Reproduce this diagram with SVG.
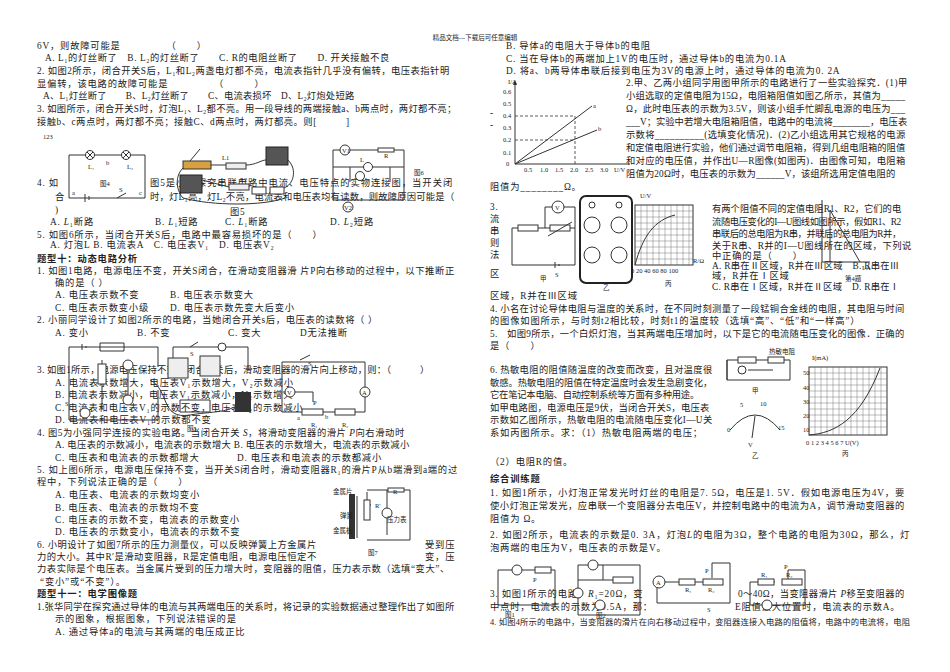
<svg xmlns="http://www.w3.org/2000/svg" width="950" height="672" viewBox="0 0 950 672">
<style>
text{font-family:"Liberation Serif","Noto Sans CJK SC",serif;font-size:9.3px;fill:#222;letter-spacing:0.8px}
.b{font-weight:bold}
.s{font-size:6.5px;letter-spacing:0}
.w{fill:none;stroke:#333;stroke-width:1}
.d{fill:none;stroke:#333;stroke-width:0.8;stroke-dasharray:3 2}
.g{fill:none;stroke:#555;stroke-width:0.4}
</style>
<rect width="950" height="672" fill="#fff"/>
<text x="475" y="40" class="s" text-anchor="middle">精品文档---下载后可任意编辑</text>

<g id="left-text">
<text x="37" y="49">6V，则故障可能是　　　　　（　　）</text>
<text x="45" y="61" textLength="345">A. L₁的灯丝断了　B. L₂的灯丝断了　　C. R的电阻丝断了　　D. 开关接触不良</text>
<text x="37" y="74" textLength="413">2. 如图2所示，闭合开关S后，L₁和L₂两盏电灯都不亮，电流表指针几乎没有偏转，电压表指针明</text>
<text x="37" y="87">显偏转，该电路的故障可能是　　　　　（　　　）</text>
<text x="43" y="99" textLength="312">A、L₁灯丝断了　　B、L₂灯丝断了　　C、电流表损坏　D、L₂灯炮处短路</text>
<text x="37" y="112" textLength="420">3. 如图所示，闭合开关S时，灯泡L₁、L₂都不亮。用一段导线的两端接触a、b两点时，两灯都不亮；</text>
<text x="37" y="125" textLength="313">接触b、c两点时，两灯都不亮；接触C、d两点时，两灯都亮。则[　　　]</text>
<text x="43" y="139" class="s">123</text>
<text x="37" y="186">4. 如</text>
<text x="55" y="200">合</text>
<text x="55" y="213">)</text>
<text x="150" y="186" textLength="303">图5是小明探究串联电路中电流、电压特点的实物连接图，当开关闭</text>
<text x="150" y="200" textLength="305">时，灯L₁亮，灯L₂不亮，电流表和电压表均有读数，则故障原因可能是（</text>
<text x="230" y="215">图5</text>
<text x="50" y="225">A. <tspan font-style="italic">L</tspan>₁断路</text>
<text x="155" y="225">B. <tspan font-style="italic">L</tspan>₁短路</text>
<text x="225" y="225">C. <tspan font-style="italic">L</tspan>₁断路</text>
<text x="330" y="225">D. <tspan font-style="italic">L</tspan>₂短路</text>
<text x="37" y="238">5. 如图6所示，当闭合开关S后，电路中最容易损坏的是（　　）</text>
<text x="50" y="248">A. 灯泡L B. 电流表A　C. 电压表V₁　D. 电压表V₂</text>
<text x="37" y="262" class="b">题型十：动态电路分析</text>
<text x="37" y="274" textLength="418">1. 如图1电路，电源电压不变，开关S闭合，在滑动变阻器滑 片P向右移动的过程中，以下推断正</text>
<text x="55" y="286">确的是（ ）</text>
<text x="55" y="298">A. 电压表示数不变</text><text x="170" y="298">B. 电压表示数变大</text>
<text x="55" y="311">C. 电压表示数变小级</text><text x="170" y="311">D. 电压表示数先变大后变小</text>
<text x="37" y="323" textLength="341">2. 小丽同学设计了如图2所示的电路，当她闭合开关s后，电压表的读数将（ ）</text>
<text x="55" y="336">A. 变小</text><text x="137" y="336">B. 不变</text><text x="228" y="336">C. 变大</text><text x="300" y="336">D无法推断</text>
<text x="37" y="373" textLength="393">3. 如图1所示，电源电压保持不变，闭合开关后，滑动变阻器的滑片向上移动，则：（　　　）</text>
<text x="55" y="386">A. 电流表示数增大，电压表V₁示数增大，V₂示数减小</text>
<text x="55" y="398">B. 电流表示数减小，电压表V₁示数减小，V₂示数增大</text>
<text x="55" y="411">C. 电流表和电压表V₁的示数不变，电压表V₂的示数减小</text>
<text x="55" y="423">D. 电流表和电压表V₁的示数都不变</text>
<text x="37" y="436" textLength="368">4. 图5为小强同学连接的实验电路。当闭合开关 <tspan font-style="italic">S</tspan>，将滑动变阻器的滑片 <tspan font-style="italic">P</tspan>向右滑动时</text>
<text x="55" y="448" textLength="355">A. 电压表的示数减小，电流表的示数增大 B. 电压表的示数增大，电流表的示数减小</text>
<text x="55" y="461">C. 电压表和电流表的示数都增大</text><text x="237" y="461">D. 电压表和电流表的示数都减小</text>
<text x="37" y="473" textLength="421">5. 如上图6所示，电源电压保持不变，当开关S闭合时，滑动变阻器R₁的滑片P从b端滑到a端的过</text>
<text x="37" y="485">程中，下列说法正确的是（　　）</text>
<text x="55" y="498">A. 电压表、电流表的示数均变小</text>
<text x="55" y="511">B. 电压表、电流表的示数均不变</text>
<text x="55" y="523">C. 电压表的示数不变，电流表的示数变小</text>
<text x="55" y="535">D. 电压表的示数变小，电流表的示数不变</text>
<text x="37" y="548" textLength="280">6. 小明设计了如图7所示的压力测量仪，可以反映弹簧上方金属片</text><text x="425" y="548">受到压</text>
<text x="37" y="560" textLength="280">力的大小。其中R′是滑动变阻器，R是定值电阻，电源电压恒定不</text><text x="425" y="560">变，压</text>
<text x="37" y="572" textLength="413">力表实际是个电压表。当金属片受到的压力增大时，变阻器的阻值，压力表示数（选填“变大”、</text>
<text x="40" y="585">“变小”或“不变”）。</text>
<text x="37" y="597" class="b">题型十一：电学图像题</text>
<text x="37" y="610" textLength="418">1.张华同学在探究通过导体的电流与其两端电压的关系时，将记录的实验数据通过整理作出了如图所</text>
<text x="55" y="622">示的图象，根据图象，下列说法错误的是</text>
<text x="55" y="635">A. 通过导体a的电流与其两端的电压成正比</text>
</g>

<g id="fig4">
<path class="w" d="M69 155H145V198H69Z"/>
<circle cx="90" cy="155" r="4.5" fill="#fff" stroke="#333"/><circle cx="126" cy="155" r="4.5" fill="#fff" stroke="#333"/>
<path class="w" d="M87 152l6 6M93 152l-6 6M123 152l6 6M129 152l-6 6M85 194v8M89 196v4M117 198l9-5"/>
<text x="88" y="169" class="s">L₁</text><text x="106" y="165" class="s">b</text><text x="127" y="169" class="s">L₂</text>
<text x="100" y="186" class="s">图4</text><text x="72" y="195" class="s">a</text><text x="119" y="192" class="s">S</text><text x="139" y="195" class="s">c</text>
</g>
<g id="fig5">
<rect x="183" y="161" width="28" height="8" fill="#d9a040" stroke="#333"/>
<rect x="266" y="147" width="22" height="18" fill="#555" stroke="#222"/>
<rect x="180" y="175" width="22" height="18" fill="#555" stroke="#222"/>
<rect x="226" y="163" width="20" height="6" fill="#eee" stroke="#333"/>
<rect x="229" y="184" width="20" height="6" fill="#eee" stroke="#333"/>
<rect x="252" y="187" width="14" height="7" fill="#fff" stroke="#333"/><rect x="270" y="187" width="14" height="7" fill="#fff" stroke="#333"/>
<text x="222" y="160" class="s">L1</text><text x="240" y="182" class="s">L2</text>
<path class="w" d="M190 161l10-12M211 165h15M246 165c10 0 15-5 20-5M288 160c10 10 5 25-4 28M183 168c-10 10-5 25 0 30c30 8 80 8 102 0M202 180l27 7"/>
</g>
<g id="fig6">
<path class="w" d="M333 150H404V200H333ZM333 167H404M350 167v15M390 167v15"/>
<circle cx="345" cy="150" r="5" fill="#fff" stroke="#333"/><text x="342" y="153" class="s">V1</text>
<rect x="378" y="148" width="16" height="4" fill="#fff" stroke="#333"/><text x="384" y="158" class="s">R</text>
<circle cx="368" cy="167" r="4.5" fill="#fff" stroke="#333"/><text x="360" y="162" class="s">L</text>
<circle cx="360" cy="176" r="4.5" fill="#fff" stroke="#333"/>
<circle cx="348" cy="207" r="5" fill="#fff" stroke="#333"/><text x="344" y="210" class="s">V2</text>
<text x="414" y="175" class="s">图6</text>
</g>
<g id="fig-dyn">
<path class="w" d="M69 347H158V367M69 347V420H158V390M82 344v6M86 346v2M100 343h24v8h-24zM102 360v50M128 360v45"/>
<rect x="98" y="364" width="8" height="20" fill="#fff" stroke="#333"/>
<circle cx="128" cy="365" r="5" fill="#fff" stroke="#333"/><circle cx="128" cy="400" r="5" fill="#fff" stroke="#333"/><circle cx="85" cy="413" r="5" fill="#fff" stroke="#333"/>
<text x="65" y="406" class="s">S</text>
<path class="w" d="M173 347V370M173 347H248V370M190 347l8-5"/>
<circle cx="222" cy="347" r="4" fill="#fff" stroke="#333"/><text x="190" y="356" class="s">S</text>
<rect x="168" y="358" width="20" height="20" fill="#eee" stroke="#333"/><rect x="200" y="356" width="20" height="20" fill="#eee" stroke="#333"/>
<rect x="235" y="392" width="16" height="20" fill="#333"/>
<path class="w" d="M150 380c20 10 10 40 40 35c30-5 40 0 60-20M180 400h30v12h-30z"/>
<text x="187" y="431" class="s">图5</text>
<path class="w" d="M282 362H365V412H355M282 362V412H302M323 412H335M290 392H313V402M283 392h2M300 360l10-5"/>
<circle cx="290" cy="392" r="5" fill="#fff" stroke="#333"/><text x="287" y="395" class="s">V</text>
<circle cx="365" cy="392" r="5" fill="#fff" stroke="#333"/><text x="362" y="395" class="s">A</text>
<rect x="302" y="409" width="21" height="6" fill="#fff" stroke="#333"/><rect x="335" y="409" width="20" height="6" fill="#fff" stroke="#333"/>
<text x="297" y="420" class="s">a</text><text x="311" y="427" class="s">R₁</text><text x="325" y="419" class="s">b</text><text x="342" y="427" class="s">R₂</text><text x="313" y="405" class="s">P</text><text x="308" y="366" class="s">S</text>
</g>
<g id="fig7">
<rect x="349" y="494" width="6" height="45" fill="#333"/>
<path class="w" d="M357 496V538M367 492v25M367 490H410V540H367M387 490v45M365 505h6"/>
<rect x="364" y="500" width="6" height="20" fill="#fff" stroke="#333"/>
<rect x="388" y="488" width="16" height="4" fill="#fff" stroke="#333"/>
<circle cx="387" cy="513" r="5" fill="#fff" stroke="#333"/>
<text x="333" y="494" class="s">金属片</text><text x="340" y="518" class="s">弹簧</text><text x="333" y="533" class="s">金属板</text>
<text x="375" y="508" class="s">R′</text><text x="393" y="494" class="s">R</text><text x="387" y="522" class="s">压力表</text>
<text x="368" y="555" class="s">图7</text>
</g>

<g id="right-text">
<text x="506" y="49">B. 导体a的电阻大于导体b的电阻</text>
<text x="506" y="62">C. 当在导体b的两端加上1V的电压时，通过导体b的电流为0.1A</text>
<text x="506" y="74">D. 将a、b两导体串联后接到电压为3V的电源上时，通过导体的电流为0. 2A</text>
<text x="626" y="86" textLength="282">2.甲、乙两小组同学用图甲所示的电路进行了一些实验探究．(1)甲</text>
<text x="626" y="99" textLength="280">小组选取的定值电阻为15Ω，电阻箱阻值如图乙所示，其值为_____</text>
<text x="626" y="112" textLength="280">Ω，此时电压表的示数为3.5V，则该小组手忙脚乱电源的电压为___</text>
<text x="626" y="125" textLength="282">___V；实验中若增大电阻箱阻值，电路中的电流将________，电压表</text>
<text x="626" y="138" textLength="280">示数将__________(选填变化情况)．(2)乙小组选用其它规格的电源</text>
<text x="626" y="151" textLength="280">和定值电阻进行实验，他们通过调节电阻箱，得到几组电阻箱的阻值</text>
<text x="626" y="164" textLength="280">和对应的电压值，并作出U—R图像(如图丙)．由图像可知，电阻箱</text>
<text x="626" y="177" textLength="270">阻值为20Ω时，电压表的示数为______V，该组所选用定值电阻的</text>
<text x="490" y="190">阻值为________Ω。</text>
<text x="490" y="210">3.</text><text x="490" y="222">流</text><text x="490" y="234">串</text><text x="490" y="246">则</text><text x="490" y="258">法</text><text x="490" y="277">区</text>
<text x="712" y="212" textLength="190">有两个阻值不同的定值电阻R1、R2，它们的电</text>
<text x="712" y="225" textLength="190">流随电压变化的I—U图线如图所示，假如R1、R2</text>
<text x="712" y="237" textLength="190">串联后的总电阻为R串，并联后的总电阻为R并，</text>
<text x="712" y="249" textLength="200">关于R串、R并的I—U图线所在的区域，下列说</text>
<text x="712" y="259">中正确的是（　　）</text>
<text x="712" y="269" style="letter-spacing:0.3px">A. R串在Ⅱ区域，R并在Ⅲ区域　B. R串在Ⅲ</text>
<text x="712" y="279">域，R并在Ⅰ区域</text>
<text x="712" y="290" style="letter-spacing:0.3px">C. R串在Ⅰ区域，R并在Ⅱ区域　D. R串在Ⅰ</text>
<text x="845" y="281" class="s">第4题</text>
<text x="490" y="299">区域，R并在Ⅲ区域</text>
<text x="490" y="312" textLength="415">4. 小名在讨论导体电阻与温度的关系时，在不同时刻测量了一段锰铜合金线的电阻，其电阻与时间</text>
<text x="490" y="324">的图像如图所示，与时刻t2相比较，时刻t1的温度较（选填“高”、“低”和“一样高”）</text>
<text x="490" y="337" textLength="415">5.　如图9所示，一个白炽灯泡，当其两端电压增加时，以下是它的电流随电压变化的图像．正确的</text>
<text x="490" y="349">是（　　）</text>
<text x="490" y="373" textLength="223">6. 热敏电阻的阻值随温度的改变而改变，且对温度很</text>
<text x="490" y="386" textLength="223">敏感。热敏电阻的阻值在特定温度时会发生急剧变化，</text>
<text x="490" y="398" textLength="210">它在笔记本电脑、自动控制系统等方面有多种用途。</text>
<text x="490" y="411" textLength="220">如甲电路图，电源电压是9伏，当闭合开关S，电压表</text>
<text x="490" y="423" textLength="223">示数如乙图所示，热敏电阻的电流随电压变化I—U关</text>
<text x="490" y="436">系如丙图所示。求：（1）热敏电阻两端的电压；</text>
<text x="490" y="465">（2）电阻R的值。</text>
<text x="490" y="482" class="b">综合训练题</text>
<text x="490" y="496" textLength="415">1. 如图1所示，小灯泡正常发光时灯丝的电阻是7. 5Ω，电压是1. 5V．假如电源电压为4V，要</text>
<text x="490" y="509" textLength="415">使小灯泡正常发光，应串联一个变阻器分去电压V，并控制电路中的电流为A，调节滑动变阻器的</text>
<text x="490" y="522">阻值为 Ω。</text>
<text x="490" y="538" textLength="420">2. 如图2所示，电流表的示数是0. 3A，灯泡<tspan font-style="italic">L</tspan>的电阻为3Ω，整个电路的电阻为30Ω，那么，灯</text>
<text x="490" y="551">泡两端的电压为V，电压表的示数是V。</text>
<text x="490" y="597">3. 如图1所示的电路，<tspan font-style="italic">R</tspan>₁=20Ω，变</text>
<text x="738" y="597" textLength="167">0～40Ω，当变阻器滑片 <tspan font-style="italic">P</tspan>移至变阻器的</text>
<text x="490" y="610">中点时，电流表的示数为0.5A，那：</text>
<text x="735" y="610">E阻值最大位置时，电流表的示数A。</text>
<text x="490" y="625" textLength="420" style="font-size:8.3px;letter-spacing:0">4. 如图4所示的电路中，当变阻器的滑片在向右移动过程中，变阻器连接入电路的阻值将，电路中的电流将，电阻</text>
</g>

<g id="graph-IU">
<path class="w" d="M515 164V82M515 164H630"/>
<path d="M515 80l-2 5h4z" fill="#333"/>
<text x="508" y="84" class="s">I/A</text>
<text x="503" y="94" class="s">0.6</text><text x="503" y="106" class="s">0.5</text><text x="503" y="118" class="s">0.4</text><text x="503" y="130" class="s">0.3</text><text x="503" y="142" class="s">0.2</text><text x="503" y="155" class="s">0.1</text><text x="506" y="166" class="s">0</text>
<text x="524" y="172" class="s">0.5</text><text x="540" y="172" class="s">1.0</text><text x="555" y="172" class="s">1.5</text><text x="570" y="172" class="s">2.0</text><text x="585" y="172" class="s">2.5</text><text x="600" y="172" class="s">3.0</text><text x="614" y="172" class="s">U/V</text>
<path class="w" d="M515 164L592 106M515 164L597 130"/>
<path class="d" d="M515 116H575V164M515 140H575"/>
<text x="593" y="108" class="s">a</text><text x="598" y="131" class="s">b</text>
<text x="490" y="116">-</text><text x="490" y="128">-</text>
</g>
<g id="fig3-jia">
<path class="w" d="M512 228H575V265H512ZM545 228V207H575V228M555 262v6M559 264v2"/>
<circle cx="558" cy="207" r="6" fill="#fff" stroke="#333"/><text x="555" y="210" class="s">V</text>
<rect x="518" y="225" width="20" height="6" fill="#fff" stroke="#333"/><rect x="550" y="225" width="20" height="6" fill="#fff" stroke="#333"/>
<path class="w" d="M548 236l24-14"/>
<text x="540" y="281" class="s">甲</text><text x="555" y="277" class="s">S</text>
</g>
<g id="fig3-yi">
<rect x="580" y="196" width="52" height="87" rx="6" fill="#fff" stroke="#222" stroke-width="2"/>
<circle cx="592" cy="205" r="3" class="w"/><circle cx="619" cy="205" r="3" class="w"/>
<circle cx="592" cy="225" r="8" class="w"/><circle cx="619" cy="225" r="8" class="w"/>
<circle cx="592" cy="255" r="8" class="w"/><circle cx="619" cy="255" r="8" class="w"/>
<text x="603" y="290" class="s">乙</text>
</g>
<g id="fig3-bing">
<rect x="635" y="205" width="58" height="60" fill="#fff" stroke="#333"/>
<path class="g" d="M641 205v60M647 205v60M653 205v60M659 205v60M665 205v60M671 205v60M677 205v60M683 205v60M689 205v60M635 211h58M635 217h58M635 223h58M635 229h58M635 235h58M635 241h58M635 247h58M635 253h58M635 259h58"/>
<path class="w" d="M635 265c8-30 20-45 40-50"/>
<text x="640" y="198" class="s">U/V</text><text x="693" y="263" class="s">R/Ω</text>
<text x="631" y="273" class="s">0 20 40 60 80 100</text><text x="665" y="286" class="s">丙</text>
</g>
<g id="fig4-region">
<path class="w" d="M822 200V262H870M830 262V210l30 52"/>
<text x="862" y="270" class="s">I/A</text>
</g>
<g id="fig6-jia">
<path class="w" d="M727 360H790V380H727ZM727 360v20M748 370h25"/>
<rect x="738" y="357" width="18" height="6" fill="#fff" stroke="#333"/><rect x="768" y="357" width="16" height="6" fill="#fff" stroke="#333"/>
<circle cx="742" cy="370" r="4" fill="#fff" stroke="#333"/><text x="769" y="354" class="s">热敏电阻</text>
<text x="752" y="393" class="s">甲</text>
</g>
<g id="fig6-yi">
<path class="w" d="M730 430Q755 400 780 430"/><path class="w" d="M752 438l3-22"/>
<text x="740" y="407" class="s">5</text><text x="760" y="406" class="s">10</text><text x="778" y="430" class="s">15</text><text x="727" y="432" class="s">0</text><text x="748" y="447" class="s">V</text><text x="752" y="458" class="s">乙</text>
</g>
<g id="fig6-bing">
<rect x="809" y="367" width="78" height="68" fill="#fff" stroke="#333"/>
<path class="g" d="M815 367v68M821 367v68M827 367v68M833 367v68M839 367v68M845 367v68M851 367v68M857 367v68M863 367v68M869 367v68M875 367v68M881 367v68M809 373h78M809 379h78M809 385h78M809 391h78M809 397h78M809 403h78M809 409h78M809 415h78M809 421h78M809 427h78"/>
<path class="w" d="M809 435C835 433 860 420 880 368"/>
<text x="812" y="360" class="s">I(mA)</text>
<text x="803" y="375" class="s">50</text><text x="803" y="390" class="s">40</text><text x="803" y="404" class="s">30</text><text x="803" y="418" class="s">20</text><text x="803" y="432" class="s">10</text>
<text x="806" y="445" class="s">0 1 2 3 4 5 6 7 U(V)</text><text x="842" y="456" class="s">丙</text>
</g>
<g id="bottom-circuits">
<path class="w" d="M498 570H555V605H498Z"/>
<circle cx="517" cy="570" r="5" fill="#fff" stroke="#333"/><rect x="535" y="567" width="16" height="6" fill="#fff" stroke="#333"/>
<text x="533" y="582" class="s">P</text><text x="505" y="617" class="s">图1</text>
<path class="w" d="M578 565H640V615H578ZM578 580H613M603 565V580"/>
<circle cx="593" cy="565" r="5" fill="#fff" stroke="#333"/><circle cx="578" cy="593" r="5" fill="#fff" stroke="#333"/><circle cx="600" cy="605" r="5" fill="#fff" stroke="#333"/>
<rect x="613" y="577" width="20" height="6" fill="#fff" stroke="#333"/><text x="596" y="618" class="s">图2</text>
<path class="w" d="M657 582V603H730V563H712V578M657 582H705"/>
<circle cx="659" cy="582" r="6" fill="#fff" stroke="#333"/><text x="656" y="585" class="s">A</text>
<rect x="679" y="579" width="16" height="6" fill="#fff" stroke="#333"/><rect x="703" y="579" width="20" height="6" fill="#fff" stroke="#333"/>
<text x="685" y="592" class="s">R₁</text><text x="708" y="592" class="s">R₂</text><text x="705" y="573" class="s">P</text><text x="707" y="612" class="s">S</text>
<path class="w" d="M750 582V605H805V570H788V580M750 582H775"/>
<rect x="758" y="579" width="16" height="6" fill="#fff" stroke="#333"/><rect x="782" y="579" width="20" height="6" fill="#fff" stroke="#333"/>
<circle cx="767" cy="605" r="5" fill="#fff" stroke="#333"/>
<text x="761" y="577" class="s">R₁</text><text x="786" y="577" class="s">R₂</text><text x="784" y="569" class="s">P</text>
</g>
</svg>
